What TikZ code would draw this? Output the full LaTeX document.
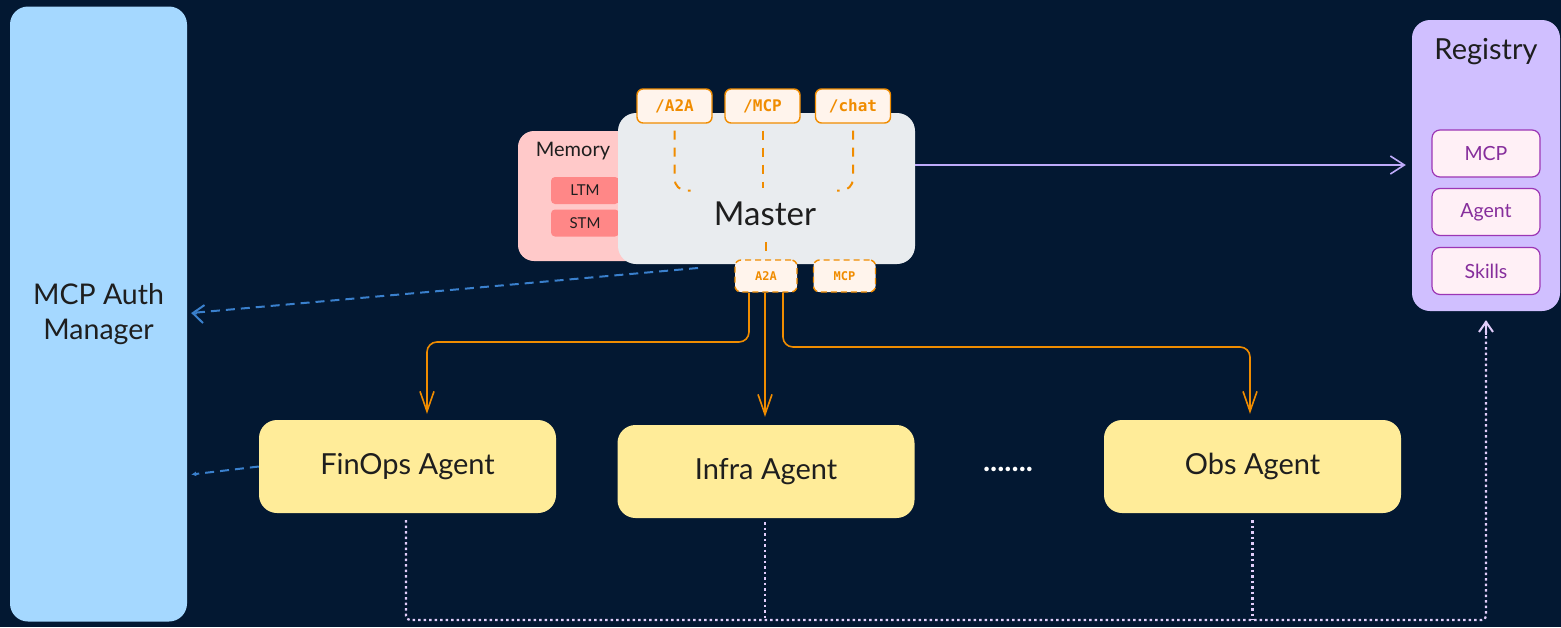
\documentclass[tikz,border=0pt]{standalone}
\usepackage{fontspec}
\setmainfont{Lato}
\newfontfamily\monof{DejaVu Sans Mono}
\usetikzlibrary{arrows.meta,calc}
\definecolor{bgc}{RGB}{3,24,50}
\definecolor{authc}{RGB}{165,216,255}
\definecolor{regc}{RGB}{208,191,255}
\definecolor{regin}{RGB}{255,240,246}
\definecolor{regbd}{RGB}{156,54,181}
\definecolor{regtx}{RGB}{134,46,156}
\definecolor{memc}{RGB}{255,201,201}
\definecolor{memin}{RGB}{255,135,135}
\definecolor{mastc}{RGB}{233,236,239}
\definecolor{epc}{RGB}{255,244,236}
\definecolor{orc}{RGB}{240,140,0}
\definecolor{agc}{RGB}{255,236,153}
\definecolor{txc}{RGB}{30,30,30}
\definecolor{bluec}{RGB}{58,128,205}
\definecolor{lavc}{RGB}{190,170,250}
\definecolor{ldotc}{RGB}{225,205,250}
\tikzset{
  box/.style={rounded corners=18pt, text=txc, align=center, inner sep=0pt},
  authbox/.style={box, fill=authc, minimum width=177pt, minimum height=615pt, font=\fontsize{28.5}{35}\selectfont},
  regbox/.style={box, fill=regc, minimum width=148pt, minimum height=291pt},
  regitem/.style={rounded corners=8pt, fill=regin, draw=regbd, line width=1.2pt, text=regtx, minimum width=108pt, minimum height=47pt, inner sep=0pt, font=\fontsize{19.5}{22}\selectfont},
  membox/.style={rounded corners=16pt, fill=memc, minimum width=142pt, minimum height=130pt, inner sep=0pt},
  memitem/.style={rounded corners=4pt, fill=memin, text=txc, minimum width=68pt, minimum height=27pt, inner sep=0pt, font=\fontsize{15}{17}\selectfont},
  mastbox/.style={box, fill=mastc, minimum width=297pt, minimum height=151pt},
  epbox/.style={rounded corners=6pt, fill=epc, draw=orc, line width=1.4pt, text=orc, minimum width=75pt, minimum height=34pt, inner sep=0pt, font=\monof\bfseries\fontsize{16}{18}\selectfont},
  epdash/.style={rounded corners=6pt, fill=epc, draw=orc, line width=1.4pt, dash pattern=on 6pt off 4pt, text=orc, minimum width=62pt, minimum height=32pt, inner sep=0pt, font=\monof\bfseries\fontsize{12}{14}\selectfont},
  agbox/.style={box, fill=agc, minimum width=297pt, minimum height=93pt, font=\fontsize{29}{34}\selectfont},
  orarrow/.style={draw=orc, line width=1.6pt, rounded corners=10pt, -{Straight Barb[length=20pt,width=14pt,line width=1.6pt]}},
  odash/.style={draw=orc, line width=2pt, dash pattern=on 9pt off 8pt, rounded corners=12pt},
  bluearrow/.style={draw=bluec, line width=2pt, dash pattern=on 9pt off 6pt},
  lavarrow/.style={draw=lavc, line width=1.6pt, -{Straight Barb[length=14pt,width=18pt,line width=1.6pt]}},
  ldot/.style={draw=ldotc, line width=2.2pt, dash pattern=on 2.5pt off 3pt, rounded corners=4pt}
}
\begin{document}
\begin{tikzpicture}[x=1pt,y=-1pt]
\useasboundingbox (0,0) rectangle (1561,627);
\fill[bgc] (0,0) rectangle (1561,627);

% side boxes
\node[authbox] (auth) at (98.5,314) {MCP Auth\\Manager};
\node[regbox] (registry) at (1486,165.5) {};
\node[text=txc, font=\fontsize{29}{34}\selectfont] (regtitle) at (1486,52) {Registry};
\node[regitem] (rmcp) at (1486,153.5) {MCP};
\node[regitem] (ragent) at (1486,212) {Agent};
\node[regitem] (rskills) at (1486,271) {Skills};

% memory
\node[membox] (memory) at (589,196) {};
\node[text=txc, font=\fontsize{20}{23}\selectfont] (memtitle) at (573,151) {Memory};
\node[memitem] (ltm) at (585,190.5) {LTM};
\node[memitem] (stm) at (585,223) {STM};

% master
\node[mastbox] (master) at (766.5,188.5) {};
\node[text=txc, font=\fontsize{33}{38}\selectfont] (mastertxt) at (765,214) {Master};

% endpoints top
\node[epbox] (ea2a) at (674.5,106) {/A2A};
\node[epbox] (emcp) at (762.5,106) {/MCP};
\node[epbox] (echat) at (853,106) {/chat};

\draw[odash] ([yshift=-7pt]ea2a.south) |- ++(16,60);
\draw[odash] ([yshift=-7pt]emcp.south) -- ++(0,57);
\draw[odash] ([yshift=-7pt]echat.south) |- ++(-16,60);

% endpoints bottom
\node[epdash] (a2a) at (766,276) {A2A};
\node[epdash] (bmcp) at (844.5,276) {MCP};
\draw[draw=orc, line width=2.5pt] ([yshift=17pt]a2a.north) -- ([yshift=8pt]a2a.north);

% agents
\node[agbox] (finops) at (407.5,466.5) {FinOps Agent};
\node[agbox] (infra) at (766,471.5) {Infra Agent};
\node[agbox] (obs) at (1252.5,466.5) {Obs Agent};
\node[text=white, font=\bfseries\fontsize{30}{30}\selectfont] (dots) at (1008,469) {.......};

% master -> registry
\draw[lavarrow, shorten >=6pt] (master.east |- 0,165) -- (registry.west |- 0,165);

% blue dashed arrows
\coordinate (bstart) at (698,268);
\draw[bluearrow] (bstart) -- ([xshift=4pt]auth.east |- 0,313);
\draw[draw=bluec, line width=2pt, -{Straight Barb[length=11pt,width=18pt,line width=2pt]}] ([xshift=10pt]auth.east |- 0,313.5) -- ([xshift=4pt]auth.east |- 0,313);
\draw[bluearrow, -{Latex[length=5pt,width=5pt]}] (finops.west) -- ([xshift=4pt]$(auth.east)+(0,160.5)$);

% orange arrows
\draw[orarrow] ([xshift=-17pt]a2a.south) -- ([xshift=-17pt]a2a.south |- 0,342) -| ([xshift=19.5pt,yshift=6pt]finops.north);
\draw[orarrow] ([xshift=-1pt]a2a.south) -- ([xshift=-1pt,yshift=8pt]infra.north);
\draw[orarrow] ([xshift=17pt]a2a.south) -- ([xshift=17pt]a2a.south |- 0,347) -| ([xshift=-2.5pt,yshift=6pt]obs.north);

% dotted to registry
\coordinate (corner) at (1486,620);
\draw[ldot] ([xshift=-1.5pt,yshift=-7pt]finops.south) |- (corner) -- ([yshift=-10pt]registry.south);
\draw[draw=ldotc, line width=2pt, -{Straight Barb[length=10pt,width=14pt,line width=2pt]}] ([yshift=-24pt]registry.south) -- ([yshift=-9pt]registry.south);
\draw[ldot] ([xshift=-1pt,yshift=-4pt]infra.south) -- ([xshift=-1pt]infra.south |- corner);
\draw[ldot] ([yshift=-7pt]obs.south) -- (obs.south |- corner);
\end{tikzpicture}
\end{document}
